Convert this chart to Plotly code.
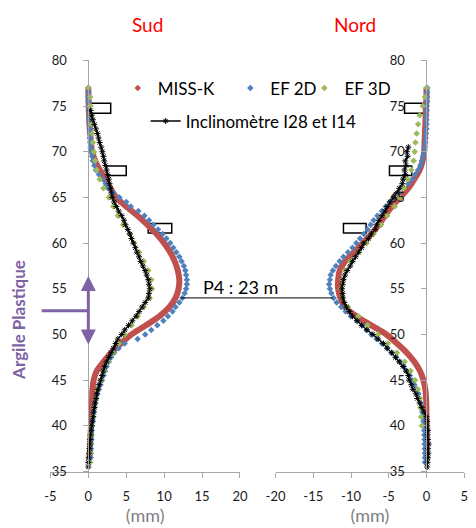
import plotly.graph_objects as go

W, H = 476, 528

# ---------------- DATA ----------------
# Sud (left panel) - depth (m) / displacement (mm)
sud_missk_depth = [77, 76, 75, 74, 73, 72, 71, 70, 69, 68, 67, 66, 65, 64, 63, 62, 61, 60, 59, 58, 57, 56,
                   55, 54, 53, 52, 51, 50, 49, 48, 47, 46, 45, 44, 43, 42, 41, 40, 39, 38, 37, 36.3]
sud_missk_mm = [0.0, 0.02, 0.05, 0.1, 0.15, 0.25, 0.35, 0.5, 0.9, 1.5, 2.2, 2.9, 3.7, 5.0, 6.5, 7.8, 9.0, 10.0,
                10.8, 11.4, 11.8, 12.0, 11.9, 11.5, 10.7, 9.4, 7.6, 5.7, 4.3, 3.0, 2.0, 1.1, 0.7, 0.55, 0.5,
                0.45, 0.4, 0.35, 0.3, 0.25, 0.2, 0.15]

sud_ef2d_depth = [77, 76.5, 76, 75.5, 75, 74.5, 74, 73.5, 73, 72.5, 72, 71.5, 71, 70.5, 70, 69.5, 69, 68.5,
                  68, 67.5, 67, 66.5, 66, 65.5, 65, 64.5, 64, 63.5, 63, 62.5, 62, 61.5, 61, 60.5, 60, 59.5,
                  59, 58.5, 58, 57.5, 57, 56.5, 56, 55.5, 55, 54.5, 54, 53.5, 53, 52.5, 52, 51.5, 51, 50.5,
                  50, 49.5, 49, 48.5, 48, 47.5, 47, 46.5, 46, 45.5, 45, 44.5, 44, 43.5, 43, 42.5, 42, 41.5,
                  41, 40.5, 40, 39.5, 39, 38.5, 38, 37.5, 37, 36.5]
sud_ef2d_mm = [0.0, 0.0, 0.0, 0.02, 0.05, 0.08, 0.1, 0.12, 0.15, 0.18, 0.2, 0.22, 0.25, 0.3, 0.4, 0.5, 0.6,
               0.8, 1.0, 1.4, 1.9, 2.3, 2.6, 3.3, 4.1, 5.0, 5.6, 6.6, 7.4, 8.0, 8.6, 9.2, 9.8, 10.3, 10.8,
               11.2, 11.6, 12.0, 12.3, 12.6, 12.8, 12.9, 13.0, 13.0, 12.9, 12.7, 12.4, 12.0, 11.5, 11.1,
               10.5, 9.9, 9.1, 8.3, 7.5, 6.5, 4.8, 4.0, 3.4, 3.0, 2.7, 2.4, 2.2, 2.0, 1.8, 1.6, 1.4, 1.2,
               1.05, 0.9, 0.8, 0.7, 0.6, 0.55, 0.5, 0.45, 0.42, 0.4, 0.37, 0.35, 0.32, 0.3]

sud_ef3d_depth = [77, 76, 75, 74, 73, 72, 71, 70, 69, 68, 67, 66, 65, 64, 63, 62, 61, 60, 59, 58, 57, 56,
                  55, 54, 53, 52, 51, 50, 49, 48, 47, 46, 45, 44, 43, 42, 41, 40, 39, 38, 37, 36]
sud_ef3d_mm = [0.0, 0.25, 0.3, 0.35, 0.4, 0.5, 0.6, 0.75, 0.9, 1.1, 1.5, 2.0, 2.7, 3.3, 3.9, 4.6, 5.4, 6.0,
               6.7, 7.3, 7.9, 8.3, 8.4, 8.1, 7.3, 6.5, 5.7, 4.8, 4.0, 3.2, 2.6, 2.1, 1.7, 1.3, 1.0, 0.8, 0.6,
               0.45, 0.35, 0.3, 0.25, 0.25]

sud_incl_depth = [74.5, 74, 73.5, 73, 72.5, 72, 71.5, 71, 70.5, 70, 69.5, 69, 68.5, 68, 67.5, 67, 66.5, 66,
                  65.5, 65, 64.5, 64, 63.5, 63, 62.5, 62, 61.5, 61, 60.5, 60, 59.5, 59, 58.5, 58, 57.5, 57,
                  56.5, 56, 55.5, 55, 54.5, 54, 53.5, 53, 52.5, 52, 51.5, 51, 50.5, 50, 49.5, 49, 48.5, 48,
                  47.5, 47, 46.5, 46, 45.5, 45, 44.5, 44, 43.5, 43, 42.5, 42, 41.5, 41, 40.5, 40, 39.5, 39,
                  38.5, 38, 37.5, 37, 36.5, 36, 35.5]
sud_incl_mm = [0.3, 0.45, 0.6, 0.8, 1.0, 1.2, 1.35, 1.5, 1.7, 1.85, 2.0, 2.1, 2.25, 2.4, 2.55, 2.7, 2.8,
               2.95, 3.05, 3.15, 3.4, 3.7, 4.0, 4.4, 4.7, 4.9, 5.2, 5.5, 5.7, 5.95, 6.2, 6.4, 6.7, 6.9, 7.2,
               7.5, 7.7, 7.9, 8.0, 8.1, 8.0, 7.9, 7.5, 7.1, 6.7, 6.3, 5.8, 5.3, 4.8, 4.4, 3.9, 3.6, 3.3, 3.0,
               2.7, 2.4, 2.15, 1.95, 1.8, 1.6, 1.4, 1.25, 1.1, 1.0, 0.9, 0.8, 0.7, 0.65, 0.55, 0.45, 0.35,
               0.3, 0.25, 0.2, 0.15, 0.1, 0.05, 0.0, 0.0]

# Nord (right panel)
nord_missk_depth = [77, 76, 75, 74, 73, 72, 71, 70, 69, 68, 67, 66, 65, 64, 63, 62, 61, 60, 59, 58, 57, 56,
                    55, 54, 53, 52, 51, 50, 49, 48, 47, 46, 45, 44, 43, 42, 41, 40, 39, 38, 37, 36.5]
nord_missk_mm = [0.0, 0.0, -0.05, -0.1, -0.15, -0.2, -0.25, -0.3, -0.5, -0.9, -1.6, -2.4, -3.5, -4.6, -5.5,
                 -6.3, -7.3, -8.4, -9.6, -10.8, -11.5, -11.7, -11.7, -11.4, -10.8, -9.3, -7.3, -5.3, -3.9,
                 -2.6, -1.6, -0.85, -0.4, -0.15, -0.05, 0.0, 0.0, 0.0, 0.0, 0.0, 0.0, 0.0]

nord_ef2d_depth = [77, 76.5, 76, 75.5, 75, 74.5, 74, 73.5, 73, 72.5, 72, 71.5, 71, 70.5, 70, 69.5, 69, 68.5,
                   68, 67.5, 67, 66.5, 66, 65.5, 65, 64.5, 64, 63.5, 63, 62.5, 62, 61.5, 61, 60.5, 60, 59.5,
                   59, 58.5, 58, 57.5, 57, 56.5, 56, 55.5, 55, 54.5, 54, 53.5, 53, 52.5, 52, 51.5, 51, 50.5,
                   50, 49.5, 49, 48.5, 48, 47.5, 47, 46.5, 46, 45.5, 45, 44.5, 44, 43.5, 43, 42.5, 42, 41.5,
                   41, 40.5, 40, 39.5, 39, 38.5, 38, 37.5, 37, 36.5, 36]
nord_ef2d_mm = [0.1, 0.1, 0.1, 0.1, 0.05, 0.05, 0.0, 0.0, 0.0, 0.0, -0.05, -0.1, -0.15, -0.25, -0.35, -0.45,
                -0.6, -0.8, -1.1, -1.5, -1.9, -2.4, -3.0, -3.6, -4.3, -4.9, -5.4, -5.9, -6.5, -7.0, -7.4,
                -7.8, -8.3, -8.8, -9.3, -9.8, -10.4, -11.0, -11.5, -12.0, -12.4, -12.7, -12.8, -12.9, -12.8,
                -12.6, -12.3, -11.9, -11.3, -10.7, -10.0, -9.2, -8.5, -7.9, -7.3, -6.6, -5.9, -5.2, -4.6,
                -4.0, -3.5, -3.0, -2.6, -2.2, -1.9, -1.6, -1.3, -1.05, -0.9, -0.75, -0.65, -0.55, -0.45,
                -0.4, -0.35, -0.3, -0.28, -0.25, -0.25, -0.22, -0.2, -0.2, -0.2]

nord_ef3d_depth = [77, 76, 75, 74, 73, 72, 71, 70, 69, 68, 67, 66, 65, 64, 63, 62, 61, 60, 59, 58, 57, 56,
                   55, 54, 53, 52, 51, 50, 49, 48, 47, 46, 45, 44, 43, 42, 41, 40]
nord_ef3d_mm = [0.0, -0.2, -0.5, -0.9, -1.1, -1.3, -1.45, -1.55, -1.7, -2.0, -2.5, -3.0, -3.5, -4.2, -5.2,
                -6.0, -7.0, -7.9, -9.0, -10.1, -10.8, -11.1, -11.3, -11.1, -10.4, -9.0, -7.8, -6.4, -5.1,
                -3.9, -2.9, -2.1, -1.5, -1.15, -0.9, -0.8, -0.7, -0.6]

nord_incl_depth = [70.5, 70, 69.5, 69, 68.5, 68, 67.5, 67, 66.5, 66, 65.5, 65, 64.5, 64, 63.5, 63, 62.5, 62,
                   61.5, 61, 60.5, 60, 59.5, 59, 58.5, 58, 57.5, 57, 56.5, 56, 55.5, 55, 54.5, 54, 53.5, 53,
                   52.5, 52, 51.5, 51, 50.5, 50, 49.5, 49, 48.5, 48, 47.5, 47, 46.5, 46, 45.5, 45, 44.5, 44,
                   43.5, 43, 42.5, 42, 41.5, 41, 40.5, 40, 39.5, 39, 38.5, 38, 37.5, 37, 36.5, 36, 35.5]
nord_incl_mm = [-2.4, -2.6, -2.5, -2.8, -2.7, -2.9, -2.8, -3.1, -3.2, -3.6, -3.9, -4.3, -4.8, -5.2, -5.5,
                -5.9, -6.3, -6.6, -6.8, -7.3, -7.7, -8.3, -8.6, -9.0, -9.4, -9.8, -10.1, -10.5, -10.8, -11.0,
                -11.1, -11.2, -11.1, -11.1, -10.9, -10.6, -10.2, -9.8, -9.2, -8.6, -7.9, -7.1, -6.4, -5.7,
                -5.2, -4.6, -4.1, -3.6, -3.1, -2.7, -2.4, -2.3, -2.0, -1.8, -1.4, -1.2, -0.9, -0.6, -0.3,
                0.0, 0.1, 0.1, 0.2, 0.15, 0.2, 0.3, 0.2, 0.25, 0.2, 0.15, 0.1]

# rectangles (mm / depth)
sud_rect_x0 = [0.0, 2.4, 7.9]
sud_rect_x1 = [2.95, 5.0, 11.0]
nord_rect_x0 = [-2.9, -4.9, -11.0]
nord_rect_x1 = [0.0, -1.95, -8.0]
rect_d0 = [74.2, 67.4, 61.1]
rect_d1 = [75.3, 68.45, 62.15]

# P4 marker
p4_depth = 54.0
p4_sud_mm = 12.2
p4_nord_mm = -12.4

# Argile plastique layer
argile_top, argile_bot, argile_mid = 56.4, 48.75, 52.6

# axes / ticks
x_range_sud = [-5, 20]
x_range_nord = [-20, 5]
y_range = [35, 80]
sud_tickvals = [-5, 0, 5, 10, 15, 20]
sud_ticktext = ["-5", "0", "5", "10", "15", "20"]
nord_tickvals = [-20, -15, -10, -5, 0, 5]
nord_ticktext = ["-20", "-15", "-10", "-5", "0", "5"]

# ---------------- STYLE ----------------
RED, BLUE, GREEN = "#C0504D", "#4F81BD", "#9BBB59"
PURPLE = "#7E62A6"
AXC = "#A6A6A6"
FONT = "Lato"

x1_dom = [42 / W, 239 / W]
x2_dom = [276 / W, 472 / W]
y_dom = [1 - 478 / H, 1 - 54 / H]


def to_paper(val, rng, dom):
    return dom[0] + (val - rng[0]) / (rng[1] - rng[0]) * (dom[1] - dom[0])


fig = go.Figure()

# MISS-K
fig.add_trace(go.Scatter(x=sud_missk_mm, y=sud_missk_depth, mode="lines", line=dict(color=RED, width=6, shape="spline"),
                         xaxis="x", yaxis="y", showlegend=False, hoverinfo="skip"))
fig.add_trace(go.Scatter(x=nord_missk_mm, y=nord_missk_depth, mode="lines", line=dict(color=RED, width=6, shape="spline"),
                         xaxis="x2", yaxis="y2", showlegend=False, hoverinfo="skip"))
# EF 2D
fig.add_trace(go.Scatter(x=sud_ef2d_mm, y=sud_ef2d_depth, mode="markers",
                         marker=dict(symbol="diamond", size=5, color=BLUE, line=dict(width=0)),
                         xaxis="x", yaxis="y", name="EF 2D", legend="legend2"))
fig.add_trace(go.Scatter(x=nord_ef2d_mm, y=nord_ef2d_depth, mode="markers",
                         marker=dict(symbol="diamond", size=5, color=BLUE, line=dict(width=0)),
                         xaxis="x2", yaxis="y2", showlegend=False))
# EF 3D
fig.add_trace(go.Scatter(x=sud_ef3d_mm, y=sud_ef3d_depth, mode="markers",
                         marker=dict(symbol="diamond", size=5, color=GREEN, line=dict(width=0)),
                         xaxis="x", yaxis="y", name="EF 3D", legend="legend3"))
fig.add_trace(go.Scatter(x=nord_ef3d_mm, y=nord_ef3d_depth, mode="markers",
                         marker=dict(symbol="diamond", size=5, color=GREEN, line=dict(width=0)),
                         xaxis="x2", yaxis="y2", showlegend=False))
# Inclinometer
incl_marker = dict(symbol="asterisk-open", size=5, color="black", line=dict(width=1, color="black"))
fig.add_trace(go.Scatter(x=sud_incl_mm, y=sud_incl_depth, mode="lines+markers",
                         line=dict(color="black", width=1.3), marker=incl_marker,
                         xaxis="x", yaxis="y", name="Inclinomètre I28 et I14", legend="legend4"))
fig.add_trace(go.Scatter(x=nord_incl_mm, y=nord_incl_depth, mode="lines+markers",
                         line=dict(color="black", width=1.3), marker=incl_marker,
                         xaxis="x2", yaxis="y2", showlegend=False))
# legend stub for MISS-K (diamond symbol as in the reference legend)
fig.add_trace(go.Scatter(x=[None], y=[None], mode="markers",
                         marker=dict(symbol="diamond", size=5, color=RED, line=dict(width=0)),
                         xaxis="x", yaxis="y", name="MISS-K", legend="legend"))

# rectangles
shapes = []
for x0, x1, d0, d1 in zip(sud_rect_x0, sud_rect_x1, rect_d0, rect_d1):
    shapes.append(dict(type="rect", xref="x", yref="y", x0=x0, x1=x1, y0=d0, y1=d1,
                       line=dict(color="black", width=1.5), fillcolor="white", layer="below"))
for x0, x1, d0, d1 in zip(nord_rect_x0, nord_rect_x1, rect_d0, rect_d1):
    shapes.append(dict(type="rect", xref="x2", yref="y2", x0=x0, x1=x1, y0=d0, y1=d1,
                       line=dict(color="black", width=1.5), fillcolor="white", layer="below"))
# P4 line
shapes.append(dict(type="line", xref="paper", yref="y",
                   x0=to_paper(p4_sud_mm, x_range_sud, x1_dom), x1=to_paper(p4_nord_mm, x_range_nord, x2_dom),
                   y0=p4_depth, y1=p4_depth, line=dict(color="black", width=1)))
# Argile horizontal bar
shapes.append(dict(type="line", xref="paper", yref="y", x0=33 / W, x1=to_paper(0, x_range_sud, x1_dom),
                   y0=argile_mid, y1=argile_mid, line=dict(color=PURPLE, width=3)))

annotations = [
    dict(text="Sud", x=143 / W, y=1 - 17 / H, xref="paper", yref="paper", showarrow=False,
         font=dict(family=FONT, size=19, color="#FF0000"), xanchor="center", yanchor="middle"),
    dict(text="Nord", x=359 / W, y=1 - 17 / H, xref="paper", yref="paper", showarrow=False,
         font=dict(family=FONT, size=19, color="#FF0000"), xanchor="center", yanchor="middle"),
    dict(text="P4 : 23 m", x=240 / W, y=1 - 288 / H, xref="paper", yref="paper", showarrow=False,
         font=dict(family=FONT, size=18, color="black"), xanchor="center", yanchor="middle"),
    dict(text="<b>Argile Plastique</b>", x=9 / W, y=1 - 322 / H, xref="paper", yref="paper", showarrow=False,
         textangle=-90, font=dict(family=FONT, size=17, color=PURPLE), xanchor="center", yanchor="middle"),
    dict(text="", x=0, y=argile_top, xref="x", yref="y", ax=0, ay=argile_bot, axref="x", ayref="y",
         showarrow=True, arrowhead=2, arrowside="end+start", arrowsize=1, arrowwidth=3, arrowcolor=PURPLE),
]

tickfont = dict(family=FONT, size=13, color="#1a1a1a")
axis_common = dict(showgrid=False, zeroline=False, showline=True, linecolor=AXC, linewidth=1,
                   ticks="outside", ticklen=5, tickcolor=AXC, tickwidth=1, tickfont=tickfont)

legend_common = dict(orientation="h", bgcolor="rgba(0,0,0,0)", borderwidth=0,
                     font=dict(family=FONT, size=17, color="black"), xanchor="left", yanchor="middle")

mm_title = dict(text="(mm)", font=dict(family=FONT, size=18, color="#7F7F7F"), standoff=6)

fig.update_layout(
    width=W, height=H, margin=dict(l=0, r=0, t=0, b=0),
    paper_bgcolor="white", plot_bgcolor="white",
    font=dict(family=FONT),
    xaxis=dict(domain=x1_dom, range=x_range_sud, anchor="y", ticklabelstandoff=8,
               tickmode="array", tickvals=sud_tickvals, ticktext=sud_ticktext,
               title=mm_title, **axis_common),
    yaxis=dict(domain=y_dom, range=y_range, anchor="free", position=to_paper(0, x_range_sud, x1_dom),
               ticklabelstandoff=14, dtick=5, **axis_common),
    xaxis2=dict(domain=x2_dom, range=x_range_nord, anchor="y2", ticklabelstandoff=8,
                tickmode="array", tickvals=nord_tickvals, ticktext=nord_ticktext,
                title=mm_title, **axis_common),
    yaxis2=dict(domain=y_dom, range=y_range, anchor="free", position=to_paper(0, x_range_nord, x2_dom),
                ticklabelstandoff=14, dtick=5, **axis_common),
    legend=dict(x=112 / W, y=1 - 83 / H, **legend_common),
    legend2=dict(x=229 / W, y=1 - 83 / H, **legend_common),
    legend3=dict(x=306 / W, y=1 - 83 / H, **legend_common),
    legend4=dict(x=141 / W, y=1 - 117 / H, **legend_common),
    shapes=shapes,
    annotations=annotations,
)

fig.write_html("out.html")
